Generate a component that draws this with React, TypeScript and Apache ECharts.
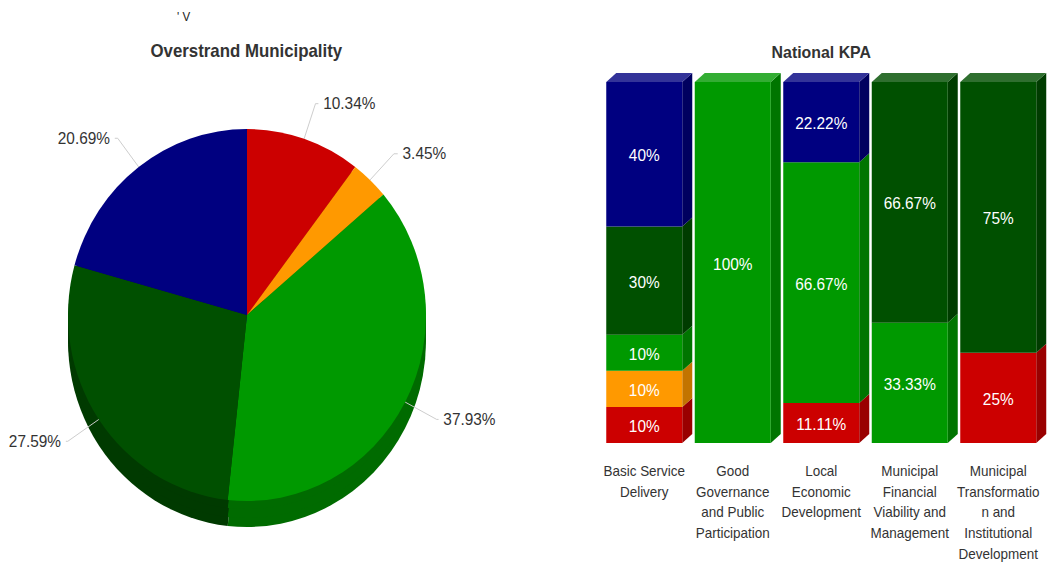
import React, { useEffect, useRef } from "react";
import * as echarts from "echarts";

const pieLabels = ["Red", "Orange", "Green", "Dark green", "Navy"];
const pieValues = [10.34, 3.45, 37.93, 27.59, 20.69];
const pieColors = ["#cc0000", "#ff9900", "#009900", "#005000", "#000080"];
const pieDepthColors = ["#8f0000", "#b36b00", "#006b00", "#003a00", "#00005a"];

const categories = [
  "Basic Service\nDelivery",
  "Good\nGovernance\nand Public\nParticipation",
  "Local\nEconomic\nDevelopment",
  "Municipal\nFinancial\nViability and\nManagement",
  "Municipal\nTransformatio\nn and\nInstitutional\nDevelopment",
];
const redValues = [10, 0, 11.11, 0, 25];
const orangeValues = [10, 0, 0, 0, 0];
const greenValues = [10, 100, 66.67, 33.33, 0];
const darkGreenValues = [30, 0, 0, 66.67, 75];
const navyValues = [40, 0, 22.22, 0, 0];
const stackValues = [redValues, orangeValues, greenValues, darkGreenValues, navyValues];
const stackNames = ["Red", "Orange", "Green", "Dark green", "Navy"];
const barColors = ["#cc0000", "#ff9900", "#009900", "#005000", "#000080"];
const sideColors = ["#990000", "#c27400", "#007500", "#003c00", "#00005f"];
const topColors = ["#d63333", "#ffad33", "#33ad33", "#2f6f2f", "#333399"];

const SX = 179 / 186;
const px = (x: number) => x / SX;
const FONT = "'Liberation Sans', sans-serif";
const BAR_W = px(76);
const DX = px(10);
const DY = 9;

const faceRows: number[][] = [];
categories.forEach((_, c) => {
  let start = 0;
  let lastIndex = -1;
  stackValues.forEach((vals, s) => {
    if (vals[c] > 0) lastIndex = s;
  });
  stackValues.forEach((vals, s) => {
    if (vals[c] > 0) {
      faceRows.push([c, start, start + vals[c], s, s === lastIndex ? 1 : 0]);
      start += vals[c];
    }
  });
});

const pieDepth = (offset: number, z: number) => ({
  type: "pie",
  silent: true,
  center: [px(247), 315 + offset],
  radius: 186,
  startAngle: 90,
  z,
  label: { show: false },
  labelLine: { show: false },
  data: pieValues.map((v, i) => ({ name: pieLabels[i], value: v, itemStyle: { color: pieDepthColors[i] } })),
});

const lineLens = [
  [37, 3],
  [36, 4],
  [37, 2],
  [39, 2],
  [36, 3],
];

export default function App() {
  const ref = useRef<HTMLDivElement>(null);
  useEffect(() => {
    const chart = echarts.init(ref.current!, undefined, { renderer: "svg" });
    chart.setOption({
      animation: false,
      backgroundColor: "#fff",
      title: [
        {
          text: "Overstrand Municipality",
          left: px(241.5),
          top: 37,
          textAlign: "center",
          textStyle: { fontFamily: FONT, fontSize: 17.5, fontWeight: "bold", color: "#333" },
        },
        {
          text: "National KPA",
          left: px(816.5),
          top: 38,
          textAlign: "center",
          textStyle: { fontFamily: FONT, fontSize: 16.5, fontWeight: "bold", color: "#333" },
        },
      ],
      graphic: [
        {
          type: "text",
          x: px(177),
          y: 10,
          style: { text: "' V", fontFamily: FONT, fontSize: 12, fill: "#222" },
        },
      ],
      grid: { left: px(600), width: px(442.5), top: 82, height: 361 },
      xAxis: {
        type: "category",
        data: categories,
        axisLine: { show: false },
        axisTick: { show: false },
        axisLabel: {
          interval: 0,
          margin: 18,
          fontFamily: FONT,
          fontSize: 14,
          lineHeight: 20.7,
          color: "#333",
          align: "center",
          verticalAlign: "top",
        },
      },
      yAxis: { type: "value", min: 0, max: 100, show: false },
      series: [
        pieDepth(26, 1),
        pieDepth(17, 1),
        pieDepth(8, 1),
        {
          type: "pie",
          center: [px(247), 315],
          radius: 186,
          startAngle: 90,
          z: 2,
          label: {
            show: true,
            overflow: "none",
            formatter: (p: any) => `${p.value}%`,
            fontFamily: FONT,
            fontSize: 16,
            color: "#333",
          },
          labelLine: { show: true, lineStyle: { color: "#ccc", width: 1 } },
          data: pieValues.map((v, i) => ({
            name: pieLabels[i],
            value: v,
            itemStyle: { color: pieColors[i] },
            labelLine: { length: lineLens[i][0], length2: lineLens[i][1] },
          })),
        },
        {
          type: "custom",
          silent: true,
          z: 1,
          encode: { x: 0, y: [1, 2] },
          data: faceRows,
          renderItem: (_: any, api: any) => {
            const c = api.value(0);
            const bottom = api.coord([c, api.value(1)]);
            const top = api.coord([c, api.value(2)]);
            const s = api.value(3);
            const x0 = bottom[0] - BAR_W / 2;
            const x1 = bottom[0] + BAR_W / 2;
            const children: any[] = [
              {
                type: "polygon",
                shape: {
                  points: [
                    [x1, top[1]],
                    [x1 + DX, top[1] - DY],
                    [x1 + DX, bottom[1] - DY],
                    [x1, bottom[1]],
                  ],
                },
                style: { fill: sideColors[s] },
              },
            ];
            if (api.value(4)) {
              children.push({
                type: "polygon",
                shape: {
                  points: [
                    [x0, top[1]],
                    [x0 + DX, top[1] - DY],
                    [x1 + DX, top[1] - DY],
                    [x1, top[1]],
                  ],
                },
                style: { fill: topColors[s] },
              });
            }
            return { type: "group", children };
          },
        },
        ...stackValues.map((vals, s) => ({
          type: "bar",
          name: stackNames[s],
          stack: "kpa",
          barWidth: BAR_W,
          z: 2,
          itemStyle: { color: barColors[s] },
          label: {
            show: true,
            position: "inside",
            offset: [0, 1.5],
            formatter: (p: any) => `${p.value}%`,
            fontFamily: FONT,
            fontSize: 16,
            color: "#fff",
          },
          data: vals.map((v) => (v > 0 ? v : null)),
        })),
      ],
    });
    return () => chart.dispose();
  }, []);
  return (
    <div
      ref={ref}
      style={{
        position: "absolute",
        left: 0,
        top: 0,
        width: 1048 / SX,
        height: 566,
        transform: `scaleX(${SX})`,
        transformOrigin: "0 0",
      }}
    />
  );
}
